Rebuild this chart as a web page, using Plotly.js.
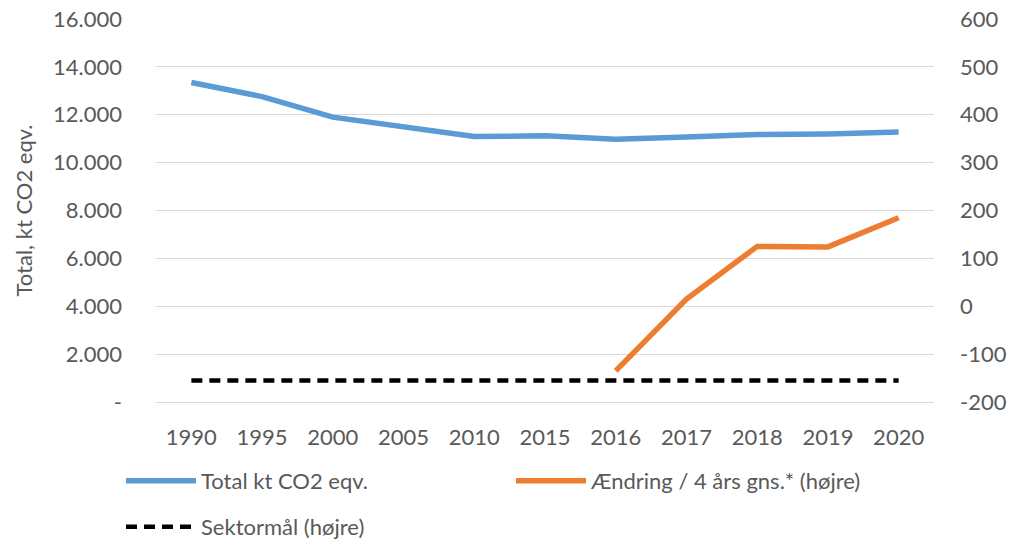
<!DOCTYPE html>
<html>
<head>
<meta charset="utf-8">
<script src="https://cdn.plot.ly/plotly-3.0.1.min.js"></script>
<style>html,body{margin:0;padding:0;background:#fff}#chart{width:1011px;height:544px}</style>
</head>
<body>
<div id="chart"></div>
<script>
const categories = ["1990","1995","2000","2005","2010","2015","2016","2017","2018","2019","2020"];
const totalKt = [13350, 12760, 11900, 11500, 11090, 11120, 10980, 11070, 11170, 11200, 11280];
const aendringCats = ["2016","2017","2018","2019","2020"];
const aendring = [-135, 15, 125, 124, 185];
const sektormaal = [-155, -155, -155, -155, -155, -155, -155, -155, -155, -155, -155];
const leftTickVals = [0, 2000, 4000, 6000, 8000, 10000, 12000, 14000, 16000];
const leftTickText = ["-", "2.000", "4.000", "6.000", "8.000", "10.000", "12.000", "14.000", "16.000"];
const rightTickVals = [-200, -100, 0, 100, 200, 300, 400, 500, 600];
const rightTickText = ["-200", "-100", "0", "100", "200", "300", "400", "500", "600"];

const font = "Lato, 'Open Sans', sans-serif";
const txt = "#595959";
const fs = 22;

const traces = [
  {x: categories, y: totalKt, name: "Total kt CO2 eqv.", type: "scatter", mode: "lines",
   line: {color: "#5B9BD5", width: 5.5}, yaxis: "y", legend: "legend"},
  {x: aendringCats, y: aendring, name: "Ændring / 4 års gns.* (højre)", type: "scatter", mode: "lines",
   line: {color: "#ED7D31", width: 5.5}, yaxis: "y2", legend: "legend2"},
  {x: categories, y: sektormaal, name: "Sektormål (højre)", type: "scatter", mode: "lines",
   line: {color: "#000000", width: 4.5, dash: "11px,7px"}, yaxis: "y2", legend: "legend3"}
];

const legendBase = {orientation: "h", xref: "container", yref: "container", xanchor: "left",
  yanchor: "middle", itemwidth: 70, font: {size: fs, color: txt}, bgcolor: "rgba(0,0,0,0)"};

const layout = {
  width: 1011, height: 544,
  margin: {l: 156, r: 77, t: 19, b: 142, autoexpand: false},
  paper_bgcolor: "#fff", plot_bgcolor: "#fff",
  font: {family: font, size: fs, color: txt},
  showlegend: true,
  xaxis: {type: "category", categoryorder: "array", categoryarray: categories,
    range: [-0.5, 10.5], autorange: false,
    showgrid: false, zeroline: false, showline: true, linecolor: "#D9D9D9", linewidth: 1, ticks: "",
    ticklabelstandoff: 16, tickfont: {size: fs, color: txt}},
  yaxis: {range: [0, 16000], autorange: false, tickvals: leftTickVals, ticktext: leftTickText,
    showgrid: true, gridcolor: "#D9D9D9", gridwidth: 1, zeroline: false, showline: false,
    ticks: "", ticklabelstandoff: 33, tickfont: {size: fs, color: txt},
    title: {text: "Total, kt CO2 eqv.", font: {size: fs, color: txt}, standoff: 14}},
  yaxis2: {range: [-200, 600], autorange: false, tickvals: rightTickVals, ticktext: rightTickText,
    overlaying: "y", side: "right",
    showgrid: false, zeroline: false, showline: false, ticks: "", ticklabelstandoff: 25,
    tickfont: {size: fs, color: txt}},
  legend: Object.assign({}, legendBase, {x: 121/1011, y: 1 - 481/544}),
  legend2: Object.assign({}, legendBase, {x: 511/1011, y: 1 - 481/544}),
  legend3: Object.assign({}, legendBase, {x: 121/1011, y: 1 - 527/544})
};

Plotly.newPlot("chart", traces, layout, {displayModeBar: false, staticPlot: true});
</script>
</body>
</html>
